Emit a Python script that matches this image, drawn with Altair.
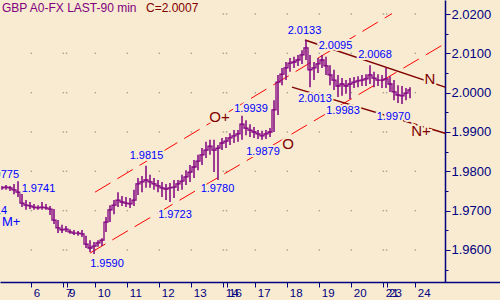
import json
from itertools import product

import altair as alt
import pandas as pd

# ---------------- data ----------------
title_left = "GBP A0-FX LAST-90 min"
title_right = "C=2.0007"

day_labels = ["6", "7", "9", "10", "11", "12", "13", "14", "16", "17", "18", "19", "20", "21", "23", "24"]
day_pos = [1.0, 2.0, 2.1, 3.0, 4.0, 5.0, 6.0, 7.0, 7.1, 8.0, 9.0, 10.0, 11.0, 12.0, 12.1, 13.0]

major_levels = [1.96, 1.97, 1.98, 1.99, 2.0, 2.01, 2.02]
minor_levels = [1.955, 1.965, 1.975, 1.985, 1.995, 2.005, 2.015]

highs = [1.9763, 1.9765, 1.9763, 1.9768, 1.9775, 1.9747, 1.9727, 1.9722, 1.9717, 1.9714,
         1.9722, 1.9717, 1.9712, 1.9704, 1.9676, 1.9664, 1.9661, 1.9653, 1.9651, 1.9648,
         1.9651, 1.9636, 1.9625, 1.9620, 1.9625, 1.9630, 1.9684, 1.9714, 1.9727, 1.9747,
         1.9737, 1.9735, 1.9732, 1.9753, 1.9783, 1.9788, 1.9814, 1.9791, 1.9783, 1.9778,
         1.9773, 1.9768, 1.9770, 1.9778, 1.9778, 1.9791, 1.9803, 1.9816, 1.9829, 1.9842,
         1.9859, 1.9875, 1.9880, 1.9880, 1.9867, 1.9885, 1.9887, 1.9897, 1.9905, 1.9905,
         1.9941, 1.9930, 1.9920, 1.9913, 1.9905, 1.9903, 1.9905, 1.9910, 1.9981, 2.0045,
         2.0063, 2.0078, 2.0088, 2.0091, 2.0096, 2.0108, 2.0134, 2.0096, 2.0078, 2.0088,
         2.0096, 2.0091, 2.0070, 2.0058, 2.0045, 2.0037, 2.0032, 2.0037, 2.0040, 2.0042,
         2.0045, 2.0047, 2.0070, 2.0053, 2.0047, 2.0045, 2.0063, 2.0042, 2.0032, 2.0019,
         2.0017, 2.0012, 2.0014]
lows = [1.9753, 1.9753, 1.9750, 1.9742, 1.9735, 1.9709, 1.9702, 1.9704, 1.9702, 1.9702,
        1.9702, 1.9702, 1.9689, 1.9666, 1.9643, 1.9643, 1.9646, 1.9641, 1.9638, 1.9636,
        1.9633, 1.9605, 1.9595, 1.9590, 1.9608, 1.9610, 1.9646, 1.9671, 1.9691, 1.9709,
        1.9712, 1.9709, 1.9707, 1.9712, 1.9740, 1.9747, 1.9758, 1.9758, 1.9753, 1.9747,
        1.9735, 1.9727, 1.9722, 1.9732, 1.9750, 1.9753, 1.9765, 1.9773, 1.9783, 1.9803,
        1.9816, 1.9834, 1.9842, 1.9798, 1.9778, 1.9854, 1.9859, 1.9867, 1.9872, 1.9875,
        1.9880, 1.9892, 1.9887, 1.9885, 1.9882, 1.9880, 1.9882, 1.9887, 1.9900, 1.9943,
        2.0019, 2.0032, 2.0053, 2.0063, 2.0068, 2.0073, 2.0083, 2.0014, 2.0032, 2.0050,
        2.0063, 2.0045, 2.0019, 2.0007, 1.9989, 1.9992, 1.9997, 1.9984, 2.0012, 2.0014,
        2.0017, 2.0017, 2.0022, 2.0014, 2.0017, 2.0012, 2.0012, 2.0002, 1.9981, 1.9974,
        1.9971, 1.9981, 1.9986]
closes = [1.9758, 1.9760, 1.9758, 1.9753, 1.9747, 1.9719, 1.9714, 1.9712, 1.9709, 1.9707,
          1.9709, 1.9707, 1.9704, 1.9676, 1.9656, 1.9651, 1.9653, 1.9646, 1.9643, 1.9643,
          1.9641, 1.9615, 1.9605, 1.9610, 1.9618, 1.9625, 1.9671, 1.9702, 1.9714, 1.9727,
          1.9722, 1.9719, 1.9717, 1.9727, 1.9768, 1.9773, 1.9778, 1.9773, 1.9768, 1.9763,
          1.9758, 1.9755, 1.9758, 1.9760, 1.9768, 1.9775, 1.9786, 1.9798, 1.9811, 1.9826,
          1.9842, 1.9854, 1.9864, 1.9854, 1.9859, 1.9872, 1.9877, 1.9885, 1.9890, 1.9895,
          1.9920, 1.9910, 1.9905, 1.9900, 1.9895, 1.9890, 1.9895, 1.9900, 1.9956, 2.0027,
          2.0047, 2.0063, 2.0075, 2.0078, 2.0083, 2.0096, 2.0114, 2.0058, 2.0063, 2.0073,
          2.0083, 2.0068, 2.0045, 2.0032, 2.0017, 2.0022, 2.0017, 2.0022, 2.0027, 2.0030,
          2.0032, 2.0035, 2.0045, 2.0037, 2.0032, 2.0032, 2.0035, 2.0022, 2.0002, 1.9994,
          1.9992, 1.9999, 2.0007]
bar_t0 = 0.0825   # first bar, in day units
bar_dt = 0.125    # one bar, in day units

# trend lines: (t1, p1) -> (t2, p2)
red_t1 = [2.99, 2.83]
red_p1 = [1.9747, 1.9592]
red_t2 = [12.27, 13.93]
red_p2 = [2.0201, 2.0125]

brown_t1 = [9.55, 9.145]
brown_p1 = [2.0134, 2.0014]
brown_t2 = [13.93, 13.93]
brown_p2 = [2.0014, 1.9897]

# blue price annotations
ann_text = ["1.9741", "1.9590", "1.9815", "1.9723", "1.9780", "1.9939", "1.9879",
            "2.0133", "2.0095", "2.0068", "2.0013", "1.9983", "1.9970"]
ann_t = [1.223, 3.364, 4.598, 5.489, 6.817, 7.864, 8.239, 9.536, 10.505, 11.739, 9.864, 10.739, 12.317]
ann_p = [1.9755, 1.9564, 1.9839, 1.9690, 1.9755, 1.9958, 1.9848, 2.0157, 2.0119, 2.0096, 1.9984, 1.9953, 1.9938]

cut_text = ["1.9775", "1.9714"]
cut_t = [0.614, 0.239]
cut_p = [1.9791, 1.9700]

wave_text = ["O+", "O", "N", "N+"]
wave_t = [6.879, 9.02, 13.457, 13.176]
wave_p = [1.9937, 1.9869, 2.0036, 1.9903]

m_text = ["M+"]
m_t = [0.0825]
m_p = [1.9671]

# ---------------- styling ----------------
bg = "#F8EBD1"
purple = "#800080"
navy = "#000080"
maroon = "#800000"
blue = "#0000FF"
font = "Liberation Sans"

xs = alt.Scale(domain=[0.02, 15.645], nice=False, zero=False)
ys = alt.Scale(domain=[1.95186, 2.02356], nice=False, zero=False)

y_values = sorted(major_levels + minor_levels)
major_js = json.dumps(major_levels)

xaxis = alt.Axis(
    values=day_pos,
    labelExpr=f"{json.dumps(day_labels)}[indexof({json.dumps(day_pos)}, datum.value)]",
    labelOverlap=False, labelFlush=False, labelBound=False,
    labelAlign="left", labelBaseline="top", labelOffset=2, labelPadding=0,
    labelFont=font, labelFontSize=11.5, labelColor=navy,
    tickColor=navy, tickSize=5, tickWidth=1,
    domainColor=navy, domainWidth=1.5, grid=False, title=None,
)
yaxis = alt.Axis(
    orient="right", offset=-55, values=y_values,
    labelExpr=f"indexof({major_js}, datum.value) >= 0 ? format(datum.value, '.4f') : ''",
    labelOverlap=False, labelFlush=False, labelBound=False,
    labelFont=font, labelFontSize=13, labelColor=navy, labelPadding=1,
    tickColor=navy, tickWidth=1,
    tickSize={"condition": {"test": f"indexof({major_js}, datum.value) < 0", "value": 3}, "value": 5},
    domainColor=navy, domainWidth=1.5, grid=False, title=None,
)


def X(field):
    return alt.X(f"{field}:Q", scale=xs, axis=xaxis)


def Y(field):
    return alt.Y(f"{field}:Q", scale=ys, axis=yaxis)


# ---------------- tables ----------------
bars = pd.DataFrame({
    "t": [bar_t0 + i * bar_dt for i in range(len(closes))],
    "high": highs, "low": lows, "close": closes,
})
dots = pd.DataFrame(list(product(day_pos, major_levels)), columns=["t", "p"])
dots = dots[~((dots.p == 2.02) & (dots.t < 7))]

red = pd.DataFrame({"t1": red_t1, "p1": red_p1, "t2": red_t2, "p2": red_p2})
brown = pd.DataFrame({"t1": brown_t1, "p1": brown_p1, "t2": brown_t2, "p2": brown_p2})
ann = pd.DataFrame({"label": ann_text, "t": ann_t, "p": ann_p})
cut = pd.DataFrame({"label": cut_text, "t": cut_t, "p": cut_p})
wave = pd.DataFrame({"label": wave_text, "t": wave_t, "p": wave_p})
mlab = pd.DataFrame({"label": m_text, "t": m_t, "p": m_p})
titles = pd.DataFrame({"a": [title_left], "b": [title_right]})

# ---------------- layers ----------------
dot_layer = alt.Chart(dots).mark_square(size=2, color="#808080").encode(x=X("t"), y=Y("p"))

red_layer = alt.Chart(red).mark_rule(color="#FF0000", strokeWidth=1, strokeDash=[18, 8]).encode(
    x=X("t1"), y=Y("p1"), x2="t2:Q", y2="p2:Q")
brown_layer = alt.Chart(brown).mark_rule(color=maroon, strokeWidth=1.5).encode(
    x=X("t1"), y=Y("p1"), x2="t2:Q", y2="p2:Q")

hl_layer = alt.Chart(bars).mark_rule(color=purple, strokeWidth=1.5).encode(x=X("t"), y=Y("low"), y2="high:Q")
close_layer = alt.Chart(bars).mark_line(color=purple, strokeWidth=1.3, interpolate="step").encode(
    x=X("t"), y=Y("close"))


def label_layers(df, color, size, align):
    base = alt.Chart(df).encode(x=X("t"), y=Y("p"), text="label:N")
    halo = base.mark_text(font=font, fontSize=size, align=align, baseline="middle",
                          color=bg, stroke=bg, strokeWidth=4)
    txt = base.mark_text(font=font, fontSize=size, align=align, baseline="middle", color=color)
    return [halo, txt]


title_a = alt.Chart(titles).mark_text(font=font, fontSize=12, align="left", baseline="middle",
                                      color=purple).encode(x=alt.value(2), y=alt.value(8), text="a:N")
title_b = alt.Chart(titles).mark_text(font=font, fontSize=12, align="left", baseline="middle",
                                      color=maroon).encode(x=alt.value(146), y=alt.value(8), text="b:N")

layers = [dot_layer, red_layer, brown_layer, hl_layer, close_layer]
layers += label_layers(ann, blue, 11, "center")
layers += label_layers(cut, blue, 11, "right")
layers += label_layers(mlab, blue, 13, "left")
layers += label_layers(wave, maroon, 15, "center")
layers += [title_a, title_b]

chart = alt.layer(*layers).properties(
    width=500, height=282, background=bg,
    padding={"left": 0, "top": 0, "right": 0, "bottom": 18},
    autosize=alt.AutoSizeParams(type="none"),
).configure_view(stroke=None, fill=bg)

chart.save("out.html", embed_options={"renderer": "svg", "actions": False})
